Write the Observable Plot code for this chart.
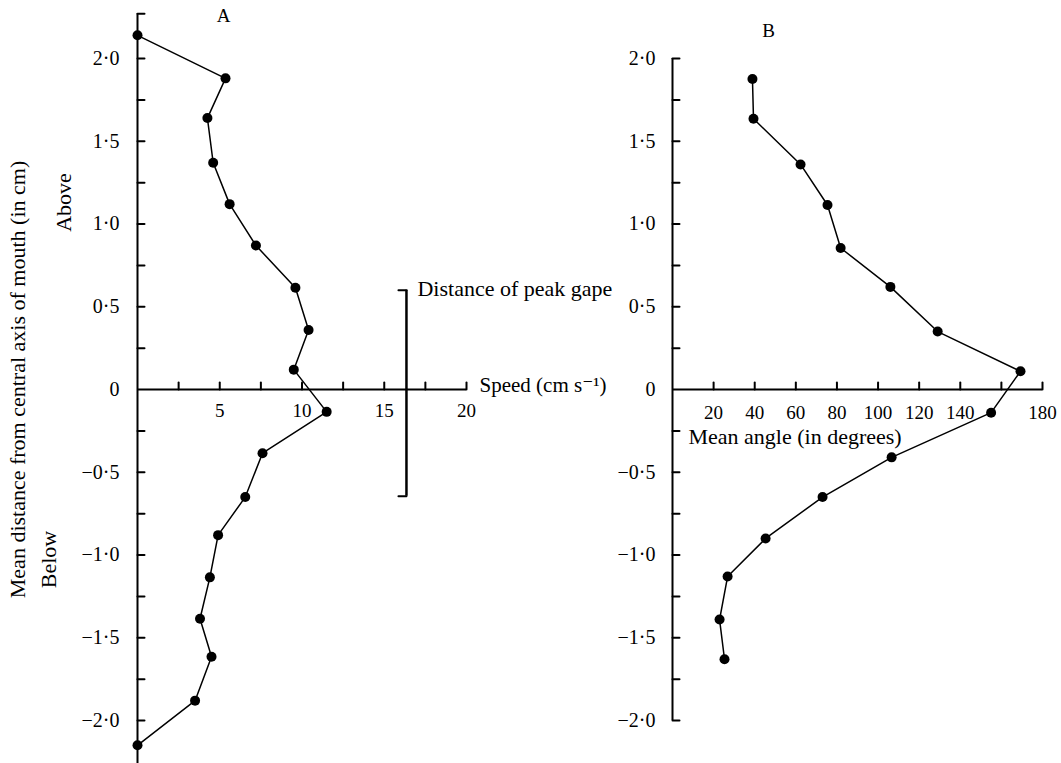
<!DOCTYPE html>
<html><head><meta charset="utf-8">
<script src="https://cdn.jsdelivr.net/npm/d3@7"></script>
<script src="https://cdn.jsdelivr.net/npm/@observablehq/plot@0.6"></script>
<style>
body{margin:0;background:#fff;}
#wrap{position:relative;width:1061px;height:763px;overflow:hidden;background:#fff;}
#wrap svg{position:absolute;left:0;top:0;}
</style></head><body><div id="wrap"></div>
<script>
// ---- Panel A data: mean distance (cm) vs speed (cm s^-1)
const distA  = [2.14, 1.88, 1.64, 1.37, 1.12, 0.87, 0.615, 0.36, 0.12, -0.135, -0.385, -0.65, -0.88, -1.135, -1.385, -1.615, -1.88, -2.15];
const speedA = [0, 5.35, 4.25, 4.6, 5.6, 7.2, 9.6, 10.4, 9.5, 11.5, 7.6, 6.55, 4.9, 4.4, 3.8, 4.5, 3.5, 0];
// ---- Panel B data: mean distance (cm) vs mean angle (degrees)
const distB  = [1.876, 1.636, 1.36, 1.115, 0.855, 0.62, 0.35, 0.11, -0.14, -0.41, -0.65, -0.9, -1.13, -1.39, -1.63];
const angleB = [38.9, 39.4, 62.3, 75.4, 81.8, 106, 129, 169.3, 155, 106.6, 73, 45.3, 26.8, 22.9, 25.3];
// ---- Peak gape bar (speed position, distance extent)
const peakSpeed = 16.35;
const peakRange = [-0.645, 0.6];
// ---- Tick values and labels
const yTickLabels = [-2, -1.5, -1, -0.5, 0, 0.5, 1, 1.5, 2];
const yMinorTicks = [-2, -1.75, -1.5, -1.25, -1, -0.75, -0.5, -0.25, 0.25, 0.5, 0.75, 1, 1.25, 1.5, 1.75, 2];
const yAxisExtentA = [-2.27, 2.27];
const yCapsA = [-2.27, 2.27];
const yAxisExtentB = [-2, 2];
const xTicksA = [2.5, 5, 7.5, 10, 12.5, 15, 17.5, 20];
const xTickLabelsA = [5, 10, 15, 20];
const xTicksB = [20, 40, 60, 80, 100, 120, 140, 160, 180];
const xTickLabelsB = [20, 40, 60, 80, 100, 120, 140, 180];

const W = 1061, H = 763;
const font = "'Liberation Serif', 'DejaVu Serif', serif";
const fmt = d => d === 0 ? "0" : (d < 0 ? "\u2212" : "") + Math.abs(d).toFixed(1).replace(".", "\u00b7");
const tickShape = {draw(ctx, l) { ctx.moveTo(0, 0); ctx.lineTo(0, -l); }};
const TS = 19, YS = 20, LS = 22;

const dataA = distA.map((d, i) => ({dist: d, speed: speedA[i]}));
const dataB = distB.map((d, i) => ({dist: d, angle: angleB[i]}));

const common = {
  width: W, height: H, marginTop: 58, marginBottom: H - 720,
  y: {domain: [-2, 2], axis: null},
  style: {background: "transparent", overflow: "visible", fontFamily: font, color: "black"}
};

const plotA = Plot.plot({
  ...common,
  marginLeft: 137, marginRight: W - 466,
  x: {domain: [0, 20], axis: null},
  marks: [
    // axes
    Plot.ruleX([0], {y1: yAxisExtentA[0], y2: yAxisExtentA[1], strokeWidth: 2}),
    Plot.ruleY([0], {x1: 0, x2: 20, strokeWidth: 2}),
    Plot.vector(yMinorTicks.concat(yCapsA), {x: 0, y: d => d, length: 7, rotate: 90, anchor: "start", shape: tickShape, strokeWidth: 2}),
    Plot.vector(xTicksA, {x: d => d, y: 0, length: 7, rotate: 0, anchor: "start", shape: tickShape, strokeWidth: 2}),
    Plot.text(yTickLabels, {x: 0, y: d => d, text: fmt, textAnchor: "end", dx: -18, fontSize: YS}),
    Plot.text(xTickLabelsA, {x: d => d, y: 0, text: d => String(d), dy: 21, fontSize: TS}),
    Plot.text(["Speed (cm s\u207B\u00B9)"], {x: 20, y: 0, dx: 13, dy: -4, textAnchor: "start", fontSize: 21}),
    // peak gape bar
    Plot.ruleX([peakSpeed], {y1: peakRange[0], y2: peakRange[1], strokeWidth: 2.5}),
    Plot.vector(peakRange, {x: peakSpeed, y: d => d, length: 8, rotate: -90, anchor: "start", shape: tickShape, strokeWidth: 2}),
    Plot.text(["Distance of peak gape"], {x: peakSpeed, y: peakRange[1], dx: 11, dy: -1, textAnchor: "start", fontSize: LS}),
    // data
    Plot.line(dataA, {x: "speed", y: "dist", stroke: "black", strokeWidth: 1.5}),
    Plot.dot(dataA, {x: "speed", y: "dist", r: 5, fill: "black"}),
    // labels
    Plot.text(["A"], {frameAnchor: "top-left", dx: 86, dy: -43, textAnchor: "middle", lineAnchor: "middle", fontSize: TS}),
    Plot.text(["Mean distance from central axis of mouth (in cm)"], {frameAnchor: "left", rotate: -90, dx: -120, dy: -10, textAnchor: "middle", lineAnchor: "middle", fontSize: LS}),
    Plot.text(["Above"], {frameAnchor: "left", rotate: -90, dx: -74, dy: 202 - 389, textAnchor: "middle", lineAnchor: "middle", fontSize: LS}),
    Plot.text(["Below"], {frameAnchor: "left", rotate: -90, dx: -89, dy: 559 - 389, textAnchor: "middle", lineAnchor: "middle", fontSize: LS})
  ]
});

const plotB = Plot.plot({
  ...common,
  marginLeft: 672, marginRight: W - 1042,
  x: {domain: [0, 180], axis: null},
  marks: [
    Plot.ruleX([0], {y1: yAxisExtentB[0], y2: yAxisExtentB[1], strokeWidth: 2}),
    Plot.ruleY([0], {x1: 0, x2: 180, strokeWidth: 2}),
    Plot.vector(yMinorTicks, {x: 0, y: d => d, length: 7, rotate: 90, anchor: "start", shape: tickShape, strokeWidth: 2}),
    Plot.vector(xTicksB, {x: d => d, y: 0, length: 7, rotate: 0, anchor: "start", shape: tickShape, strokeWidth: 2}),
    Plot.text(yTickLabels, {x: 0, y: d => d, text: fmt, textAnchor: "end", dx: -17, fontSize: YS}),
    Plot.text(xTickLabelsB, {x: d => d, y: 0, text: d => String(d), dy: 23, fontSize: TS}),
    Plot.text(["Mean angle (in degrees)"], {x: 0, y: 0, dx: 16, dy: 47, textAnchor: "start", fontSize: LS}),
    Plot.line(dataB, {x: "angle", y: "dist", stroke: "black", strokeWidth: 1.5}),
    Plot.dot(dataB, {x: "angle", y: "dist", r: 5, fill: "black"}),
    Plot.text(["B"], {frameAnchor: "top-left", dx: 96, dy: -28, textAnchor: "middle", lineAnchor: "middle", fontSize: TS})
  ]
});

const wrap = document.getElementById("wrap");
wrap.appendChild(plotA);
wrap.appendChild(plotB);
</script></body></html>
